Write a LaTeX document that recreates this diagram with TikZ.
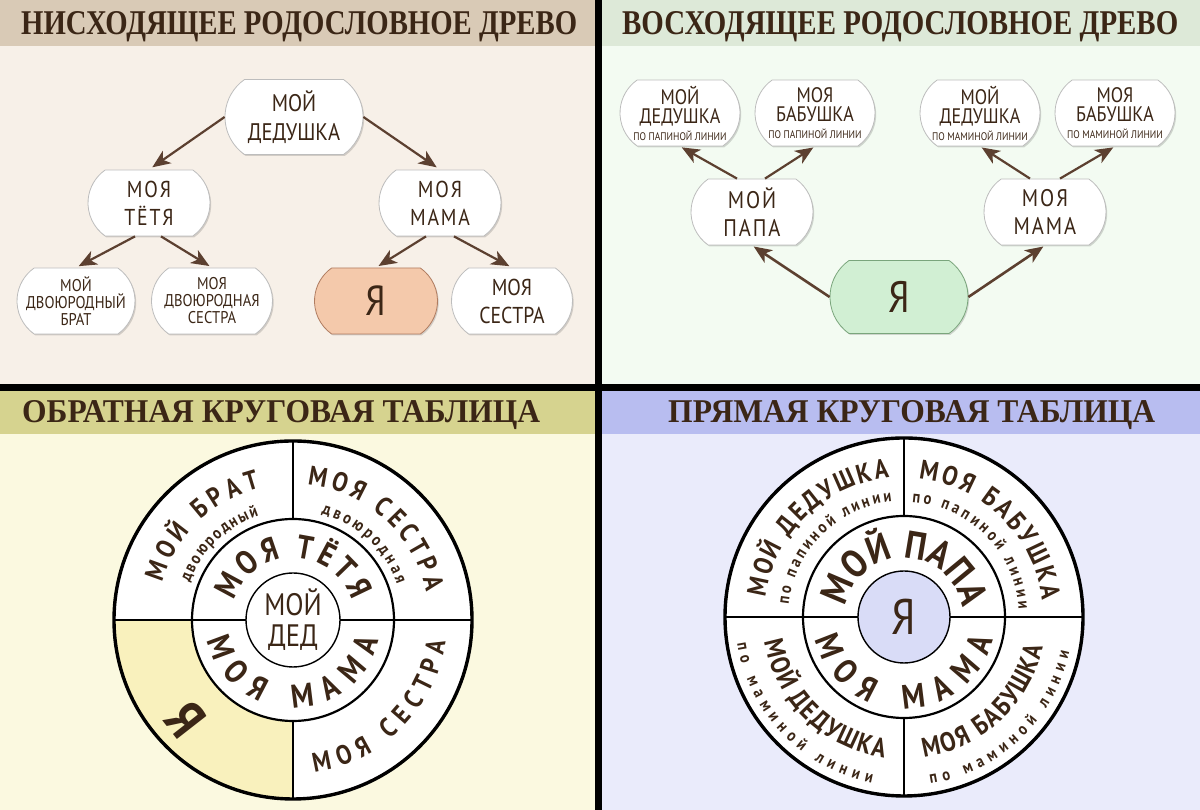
\documentclass[tikz,border=0pt]{standalone}
\usepackage{graphicx}
\usepackage{fontspec}
\setmainfont{PT Sans}
\newfontfamily\nf[FakeStretch=0.86]{PT Sans}
\newfontfamily\hdf{Liberation Serif}
\usetikzlibrary{shapes.misc,arrows.meta,decorations.text,shadows}
\definecolor{txt}{HTML}{3B2616}
\definecolor{arrc}{HTML}{5C4030}
\definecolor{tlbg}{HTML}{F7F0E8}
\definecolor{tlhd}{HTML}{D9CAB6}
\definecolor{trbg}{HTML}{F3FBF2}
\definecolor{trhd}{HTML}{DDE9D8}
\definecolor{blbg}{HTML}{FBF9E0}
\definecolor{blhd}{HTML}{D6D38F}
\definecolor{brbg}{HTML}{EAEBFB}
\definecolor{brhd}{HTML}{B8BDF0}
\definecolor{bubln}{HTML}{BDBDBD}
\definecolor{yaor}{HTML}{F4C9AB}
\definecolor{yaorln}{HTML}{B07C60}
\definecolor{yagr}{HTML}{D1EFD3}
\definecolor{yagrln}{HTML}{7AA57C}
\definecolor{yel}{HTML}{F9F1BD}
\definecolor{lav}{HTML}{D9DCF7}
\newcommand\nfs[2]{\nf\fontsize{#1}{#2}\selectfont}
\newcommand\cfs[1]{\nf\bfseries\fontsize{#1}{#1}\selectfont\color{txt}}
\newcommand\ctext[6]{\path[decorate,decoration={text along path,text align={fit to path},text={|#5|#6}}] (#1) ++(#3:#2) arc[start angle=#3,end angle=#4,radius=#2];}
\tikzset{
  bub/.style={rounded rectangle, rounded rectangle arc length=110, draw=bubln, fill=white,
    line width=0.8pt, inner sep=2pt, align=center, text=txt,
    drop shadow={shadow xshift=1.2pt, shadow yshift=-1.5pt, opacity=0.15, fill=black}},
  arr/.style={draw=arrc, line width=2.2pt, -{Stealth[length=18pt,width=15pt,inset=5pt]}},
  hdr/.style={anchor=base west, inner sep=0pt, text=txt},
}
\begin{document}
\begin{tikzpicture}[x=1pt,y=1pt]
\useasboundingbox (0,0) rectangle (1200,810);
% backgrounds
\fill[tlbg] (0,422) rectangle (598,810);
\fill[tlhd] (0,764) rectangle (598,810);
\fill[trbg] (598,422) rectangle (1200,810);
\fill[trhd] (598,764) rectangle (1200,810);
\fill[blbg] (0,0) rectangle (598,422);
\fill[blhd] (0,376) rectangle (598,420);
\fill[brbg] (598,0) rectangle (1200,422);
\fill[brhd] (598,376) rectangle (1200,420);
\fill[black] (0,419) rectangle (1200,426);
\fill[black] (595,0) rectangle (602,810);
% headers
\node[hdr] (h1) at (21,775) {\resizebox{556pt}{23pt}{\hdf\bfseries НИСХОДЯЩЕЕ РОДОСЛОВНОЕ ДРЕВО}};
\node[hdr] (h2) at (622,775) {\resizebox{556pt}{23pt}{\hdf\bfseries ВОСХОДЯЩЕЕ РОДОСЛОВНОЕ ДРЕВО}};
\node[hdr] (h3) at (22,387) {\resizebox{518pt}{22pt}{\hdf\bfseries ОБРАТНАЯ КРУГОВАЯ ТАБЛИЦА}};
\node[hdr] (h4) at (668,387) {\resizebox{487pt}{22pt}{\hdf\bfseries ПРЯМАЯ КРУГОВАЯ ТАБЛИЦА}};
% ---------- top-left tree
\node[bub, minimum width=142pt, minimum height=75pt, font=\nfs{24}{29}] (ded) at (294,693) {МОЙ\\ДЕДУШКА};
\node[bub, minimum width=126pt, minimum height=66pt, font=\nfs{23}{28}\addfontfeature{LetterSpace=8}] (tetya) at (149,607) {МОЯ\\ТЁТЯ};
\node[bub, minimum width=126pt, minimum height=66pt, font=\nfs{23}{28}\addfontfeature{LetterSpace=8}] (mama) at (440,607) {МОЯ\\МАМА};
\node[bub, minimum width=122pt, minimum height=66pt, font=\nfs{17}{17}] (brat) at (76,509) {МОЙ\\ДВОЮРОДНЫЙ\\БРАТ};
\node[bub, minimum width=125pt, minimum height=66pt, font=\nfs{17}{17}] (sestraD) at (212,509) {МОЯ\\ДВОЮРОДНАЯ\\СЕСТРА};
\node[bub, fill=yaor, draw=yaorln, minimum width=127pt, minimum height=66pt, font=\nfs{42}{42}] (ya) at (376,509) {Я};
\node[bub, minimum width=125pt, minimum height=66pt, font=\nfs{23}{28}] (sestra) at (512,509) {МОЯ\\СЕСТРА};
\draw[arr, shorten >=4pt] (ded.west) -- (tetya.north);
\draw[arr, shorten >=4pt] (ded.east) -- (mama.north);
\draw[arr, shorten >=3pt] ([xshift=-14pt]tetya.south) -- (brat.north);
\draw[arr, shorten >=3pt] ([xshift=12pt]tetya.south) -- (sestraD.north);
\draw[arr, shorten >=3pt] ([xshift=-14pt]mama.south) -- (ya.north);
\draw[arr, shorten >=3pt] ([xshift=14pt]mama.south) -- (sestra.north);
% ---------- top-right tree
\node[bub, minimum width=124pt, minimum height=66pt, font=\nfs{21}{19}] (dedP) at (680,697) {МОЙ\\ДЕДУШКА\\[-2pt]{\nfs{11}{12}ПО ПАПИНОЙ ЛИНИИ}};
\node[bub, minimum width=124pt, minimum height=66pt, font=\nfs{21}{19}] (babP) at (815,697) {МОЯ\\БАБУШКА\\[-2pt]{\nfs{11}{12}ПО ПАПИНОЙ ЛИНИИ}};
\node[bub, minimum width=124pt, minimum height=66pt, font=\nfs{21}{19}] (dedM) at (980,697) {МОЙ\\ДЕДУШКА\\[-2pt]{\nfs{11}{12}ПО МАМИНОЙ ЛИНИИ}};
\node[bub, minimum width=124pt, minimum height=66pt, font=\nfs{21}{19}] (babM) at (1115,697) {МОЯ\\БАБУШКА\\[-2pt]{\nfs{11}{12}ПО МАМИНОЙ ЛИНИИ}};
\node[bub, minimum width=126pt, minimum height=66pt, font=\nfs{24}{28}\addfontfeature{LetterSpace=8}] (papa) at (752,598) {МОЙ\\ПАПА};
\node[bub, minimum width=126pt, minimum height=66pt, font=\nfs{24}{28}\addfontfeature{LetterSpace=8}] (mama2) at (1045,598) {МОЯ\\МАМА};
\node[bub, fill=yagr, draw=yagrln, minimum width=142pt, minimum height=73pt, font=\nfs{44}{44}] (ya2) at (899,513) {Я};
\draw[arr, shorten >=2pt] ([xshift=-15pt]papa.north) -- (dedP.south);
\draw[arr, shorten >=2pt] ([xshift=13pt]papa.north) -- (babP.south);
\draw[arr, shorten >=2pt] ([xshift=-15pt]mama2.north) -- (dedM.south);
\draw[arr, shorten >=2pt] ([xshift=15pt]mama2.north) -- (babM.south);
\draw[arr, line width=2.6pt, shorten >=2pt] (ya2.west) -- (papa.south);
\draw[arr, line width=2.6pt, shorten >=2pt] (ya2.east) -- (mama2.south);
% ---------- bottom-left circle
\coordinate (c1) at (293,190);
\fill[white] (c1) circle[radius=179];
\fill[yel] (c1) ++(180:179) arc[start angle=180,end angle=270,radius=179] -- ++(0,78) arc[start angle=270,end angle=180,radius=101] -- cycle;
\draw[line width=2.6pt] (c1) ++(-179,0) -- ++(132,0);
\draw[line width=2.6pt] (c1) ++(47,0) -- ++(132,0);
\draw[line width=2.6pt] (c1) ++(0,179) -- ++(0,-78);
\draw[line width=2.6pt] (c1) ++(0,-101) -- ++(0,-78);
\draw[line width=2.2pt] (c1) circle[radius=101];
\draw[line width=1.4pt, fill=white] (c1) circle[radius=47];
\draw[line width=3.4pt] (c1) circle[radius=179];
\ctext{c1}{136}{164}{104}{\cfs{27}}{МОЙ БРАТ}
\ctext{c1}{110}{160}{108}{\cfs{17}}{двоюродный}
\ctext{c1}{136}{84}{12}{\cfs{27}}{МОЯ СЕСТРА}
\ctext{c1}{110}{75}{19}{\cfs{17}}{двоюродная}
\ctext{c1}{154}{278}{352}{\cfs{27}}{МОЯ СЕСТРА}
\ctext{c1}{62}{162}{18}{\cfs{33}}{МОЯ ТЁТЯ}
\ctext{c1}{88}{193}{347}{\cfs{33}}{МОЯ МАМА}
\node[font=\nf\fontsize{31}{31}\selectfont, text=txt, align=center] (ded1) at (c1) {МОЙ\\ДЕД};
\node[font=\nf\bfseries\fontsize{54}{54}\selectfont, text=txt, rotate=-52] (ya3) at ([shift={(223:146)}]c1) {Я};
% ---------- bottom-right circle
\coordinate (c2) at (904,193);
\fill[white] (c2) circle[radius=179];
\draw[line width=2.6pt] (c2) ++(-179,0) -- ++(133,0);
\draw[line width=2.6pt] (c2) ++(46,0) -- ++(133,0);
\draw[line width=2.6pt] (c2) ++(0,179) -- ++(0,-78);
\draw[line width=2.6pt] (c2) ++(0,-101) -- ++(0,-78);
\draw[line width=2.2pt] (c2) circle[radius=101];
\draw[line width=1.4pt, fill=lav] (c2) circle[radius=46];
\draw[line width=3.4pt] (c2) circle[radius=179];
\ctext{c2}{140}{172}{96}{\cfs{27}}{МОЙ ДЕДУШКА}
\ctext{c2}{116}{174}{96}{\cfs{17}}{по папиной линии}
\ctext{c2}{139}{84}{7}{\cfs{27}}{МОЯ БАБУШКА}
\ctext{c2}{115}{86}{4}{\cfs{17}}{по папиной линии}
\ctext{c2}{142}{190}{262}{\cfs{27}}{МОЙ ДЕДУШКА}
\ctext{c2}{169}{189}{259}{\cfs{17}}{по маминой линии}
\ctext{c2}{142}{278}{348}{\cfs{27}}{МОЯ БАБУШКА}
\ctext{c2}{169}{279}{348}{\cfs{17}}{по маминой линии}
\ctext{c2}{59}{170}{9}{\cfs{39}}{МОЙ ПАПА}
\ctext{c2}{92}{194}{346}{\cfs{34}}{МОЯ МАМА}
\node[font=\nfs{50}{50}, text=txt] (ya4) at (c2) {Я};
\end{tikzpicture}
\end{document}
